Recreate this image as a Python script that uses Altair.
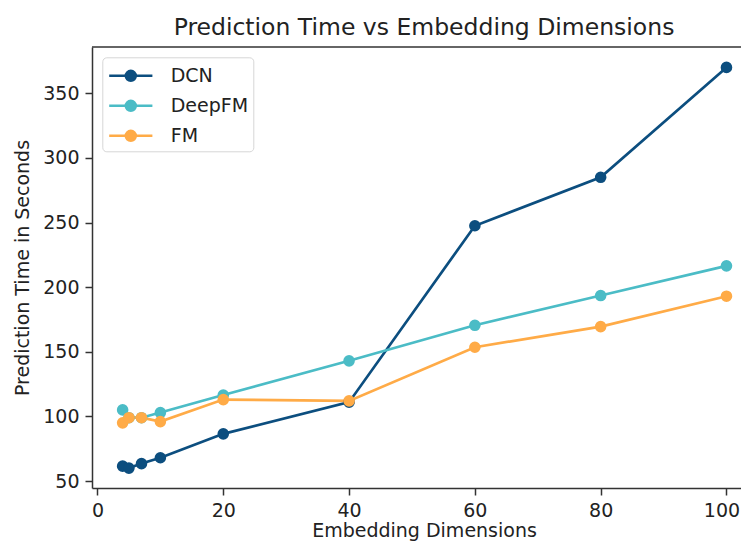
import altair as alt
import pandas as pd

# ---- data ----
dims = [4, 5, 7, 10, 20, 40, 60, 80, 100]
dcn = [61.5, 60, 63.5, 68, 86.5, 111, 247.5, 285, 370]
deepfm = [105, 99, 99, 103, 116.5, 143, 170.5, 193.5, 216.5]
fm = [95, 99, 99, 96, 113, 112, 153.5, 169.5, 193]
models = ["DCN", "DeepFM", "FM"]
colors = ["#0c4e7f", "#4bbcc6", "#ffab47"]
x_ticks = [0, 20, 40, 60, 80, 100]
y_ticks = [50, 100, 150, 200, 250, 300, 350]

rows = []
for name, vals in zip(models, [dcn, deepfm, fm]):
    for d, v in zip(dims, vals):
        rows.append({"model": name, "dim": d, "time": v})
df = pd.DataFrame(rows)

FONT = "DejaVu Sans"
TXT = "#222222"
SPINE = "#333333"
W, H = 649, 441


def circ(r):
    return f"M{r},0A{r},{r} 0 1,1 -{r},0A{r},{r} 0 1,1 {r},0"


legend_path = "M-1.8,0H1.8" + "".join(circ(r) for r in [0.417, 0.3, 0.183, 0.067])

x_enc = alt.X(
    "dim:Q",
    scale=alt.Scale(domain=[-0.87, 102.31], nice=False, zero=False),
    axis=alt.Axis(
        values=x_ticks, format="d", title="Embedding Dimensions",
        titleX=332, titleY=48, titleBaseline="alphabetic", titleAlign="center",
        grid=False, labelFlush=False, labelOverlap=False,
        labelOffset={"condition": {"test": "datum.value === 100", "value": -5}, "value": 0},
    ),
)
y_enc = alt.Y(
    "time:Q",
    scale=alt.Scale(domain=[44.6, 385.8], nice=False, zero=False),
    axis=alt.Axis(
        values=y_ticks, format="d", title="Prediction Time in Seconds",
        titleX=-63.7, titleBaseline="alphabetic",
        grid=False, labelFlush=False, labelOverlap=False,
    ),
)
color_enc = alt.Color(
    "model:N",
    scale=alt.Scale(domain=models, range=colors),
    legend=alt.Legend(
        title=None, orient="none", legendX=10.3, legendY=10.3,
        symbolType=legend_path, symbolSize=576, symbolStrokeWidth=2.5,
        symbolOffset=10, labelOffset=26.4, rowPadding=6, padding=5,
        labelFont=FONT, labelFontSize=19, labelColor=TXT,
        labelExpr="datum.label + ' '",
        fillColor="rgba(255,255,255,0.8)", strokeColor="#d6d6d6",
        cornerRadius=4,
    ),
)

base = alt.Chart(df).encode(x=x_enc, y=y_enc, color=color_enc)
lines = base.mark_line(strokeWidth=2.7)
points = base.mark_point(filled=True, size=135, opacity=1, strokeWidth=0)

spine = alt.Chart(pd.DataFrame({"a": [0]})).mark_rule(
    color=SPINE, strokeWidth=1.5
).encode(x=alt.value(0), x2=alt.value(W), y=alt.value(0))

chart = (
    alt.layer(lines, points, spine)
    .properties(
        width=W, height=H,
        title=alt.TitleParams(
            "Prediction Time vs Embedding Dimensions",
            font=FONT, fontSize=23.5, fontWeight="normal", color=TXT,
            anchor="middle", dx=7.5, dy=24, offset=12, baseline="alphabetic",
        ),
        padding={"left": 84, "top": 39, "right": 0, "bottom": 53},
        autosize=alt.AutoSizeParams(type="none"),
    )
    .configure_view(strokeWidth=0)
    .configure_axis(
        labelFont=FONT, labelFontSize=19, labelColor=TXT,
        titleFont=FONT, titleFontSize=19, titleColor=TXT, titleFontWeight="normal",
        domainColor=SPINE, domainWidth=1.5,
        tickColor=SPINE, tickWidth=1.5, tickSize=7, labelPadding=6,
    )
)

chart.save("out.html", embed_options={"renderer": "svg", "actions": False})
